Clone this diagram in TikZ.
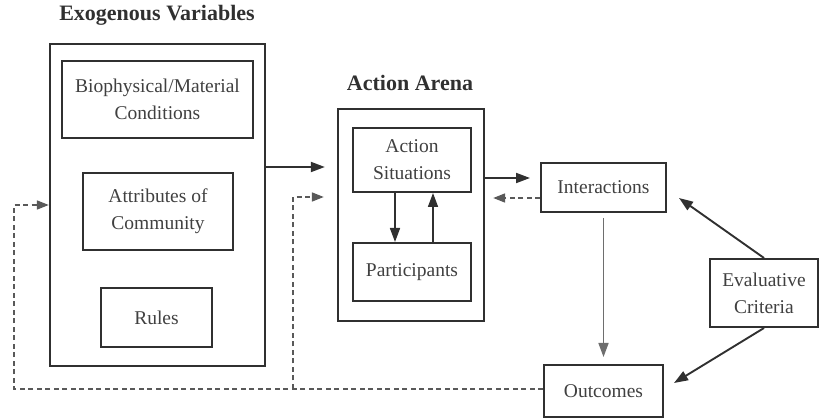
\documentclass[tikz,border=0pt]{standalone}
\usepackage{fontspec}
\setmainfont{Liberation Serif}
\usetikzlibrary{arrows.meta,calc}
\definecolor{ink}{HTML}{303030}
\definecolor{txt}{HTML}{404040}
\begin{document}
\begin{tikzpicture}[x=1pt,y=-1pt,
  box/.style={draw=ink,line width=2pt,rectangle,inner sep=0pt,text=txt,align=center,
    font=\fontsize{19.5}{27}\selectfont},
  frame/.style={draw=ink,line width=2.3pt,rectangle,inner sep=0pt},
  title/.style={text=ink,font=\fontsize{22}{24}\selectfont\bfseries},
  arr/.style={draw=ink,line width=1.9pt,-{Triangle[length=14pt,width=10pt]}},
  fb/.style={draw=ink!80,line width=1.6pt,dash pattern=on 5pt off 3.5pt},
  fbarr/.style={fb,-{Triangle[length=12pt,width=9pt]}}]
\useasboundingbox (0,0) rectangle (819,419);

% exogenous variables
\node[title] (tex) at (157,15) {Exogenous Variables};
\node[frame,minimum width=215pt,minimum height=322pt] (exog) at (157.5,205) {};
\node[box,minimum width=191pt,minimum height=77pt] (bio) at (157.5,99.5) {Biophysical/Material\\Conditions};
\node[box,minimum width=150pt,minimum height=77pt] (attr) at (158,211.5) {Attributes of\\Community};
\node[box,minimum width=111pt,minimum height=59pt] (rules) at (156.5,317.5) {Rules};

% action arena
\node[title] (tar) at (410,83) {Action Arena};
\node[frame,minimum width=146pt,minimum height=212pt] (arena) at (411,215) {};
\node[box,minimum width=118pt,minimum height=64pt] (as) at (412,160) {Action\\Situations};
\node[box,minimum width=118pt,minimum height=58pt] (part) at (412,272) {Participants};

% right column
\node[box,minimum width=125pt,minimum height=49pt] (inter) at (603.5,187.5) {Interactions};
\node[box,minimum width=119pt,minimum height=52pt] (outc) at (603.5,391) {Outcomes};
\node[box,minimum width=108pt,minimum height=68pt] (ec) at (764,293) {Evaluative\\Criteria};

% main flow
\coordinate (ex) at ([yshift=38pt]exog.east);
\draw[arr,shorten >=12pt] (ex) -- (ex -| arena.west);
\coordinate (ax) at ([yshift=37pt]arena.east);
\draw[arr,shorten >=10pt] (ax) -- (ax -| inter.west);
\coordinate (ix) at ([yshift=-10.5pt]inter.west);
\draw[fbarr,shorten >=8pt] (ix) -- (ix -| arena.east);
\draw[arr,line width=1.6pt] ([xshift=-17pt]as.south) -- ([xshift=-17pt]part.north);
\draw[arr,line width=1.6pt] ([xshift=21pt]part.north) -- ([xshift=21pt]as.south);
\draw[arr,draw=ink!70,line width=1.5pt,shorten <=5pt,shorten >=7pt] (inter.south) -- (outc.north);
\coordinate (ti) at ($(inter.east)+(12,10.5)$);
\coordinate (to) at ($(outc.east)+(10,-8)$);
\draw[arr] (ec.north) -- (ti);
\draw[arr] (ec.south) -- (to);

% feedback from outcomes
\coordinate (fbl) at ([yshift=2pt]outc.west);
\draw[fbarr] (fbl) -| ($(exog.west)+(-35,0)$) -- (exog.west);
\coordinate (br) at (293,0);
\draw[fbarr,shorten >=13pt] (br |- fbl) |- ([yshift=18pt]arena.west);
\end{tikzpicture}
\end{document}
